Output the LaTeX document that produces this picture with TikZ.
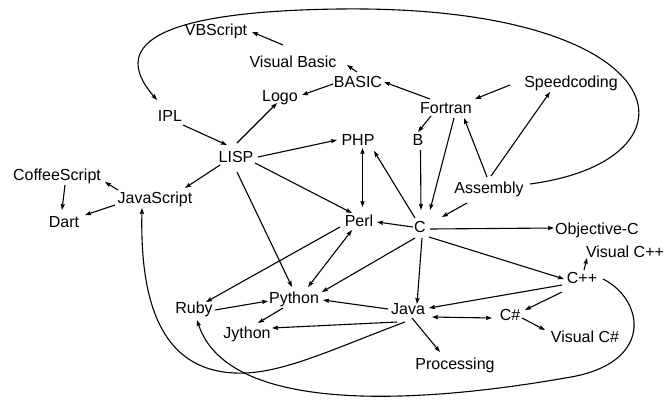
\documentclass[tikz,border=0pt]{standalone}
\usepackage{fontspec}
\setmainfont{Liberation Sans}
\usetikzlibrary{arrows.meta}
\begin{document}
\begin{tikzpicture}[x=1pt,y=-1pt,
  lang/.style={inner sep=0pt, text height=11.5pt, text depth=0pt, font=\fontsize{16}{19}\selectfont},
  arr/.style={-{Stealth[length=6pt,width=4.2pt,inset=0.8pt]}, line width=1.1pt},
  darr/.style={{Stealth[length=6pt,width=4.2pt,inset=0.8pt]}-{Stealth[length=6pt,width=4.2pt,inset=0.8pt]}, line width=1.1pt}]
\useasboundingbox[fill=white] (0,0) rectangle (664,400);
\node[lang] (VBScript) at (216,30) {VBScript};
\node[lang] (VisualBasic) at (293,62) {Visual Basic};
\node[lang] (BASIC) at (358,82) {BASIC};
\node[lang] (Logo) at (280,96) {Logo};
\node[lang] (Fortran) at (446,108) {Fortran};
\node[lang] (Speedcoding) at (571,82) {Speedcoding};
\node[lang] (IPL) at (170,116) {IPL};
\node[lang] (LISP) at (236,157) {LISP};
\node[lang] (PHP) at (358,140) {PHP};
\node[lang] (B) at (418,140) {B};
\node[lang] (Assembly) at (489,188) {Assembly};
\node[lang] (CoffeeScript) at (57,175) {CoffeeScript};
\node[lang] (JavaScript) at (155,198) {JavaScript};
\node[lang] (Dart) at (64,222) {Dart};
\node[lang] (Perl) at (359,221) {Perl};
\node[lang] (C) at (420,227) {C};
\node[lang] (ObjectiveC) at (597,229) {Objective-C};
\node[lang] (VisualCpp) at (625,252) {Visual C++};
\node[lang] (Cpp) at (582,278) {C++};
\node[lang] (Ruby) at (194,308) {Ruby};
\node[lang] (Python) at (294,298) {Python};
\node[lang] (Java) at (408,309) {Java};
\node[lang] (CSharp) at (510,315) {C\#};
\node[lang] (Jython) at (247,333) {Jython};
\node[lang] (VisualCSharp) at (585,337) {Visual C\#};
\node[lang] (Processing) at (455,364) {Processing};

\draw[arr] ([shift={(-10,-17)}]VisualBasic.center) -- ([shift={(36,2)}]VBScript.center);
\draw[arr] ([shift={(-1,-10)}]BASIC.center) -- ([shift={(54,3)}]VisualBasic.center);
\draw[arr] ([shift={(-25,2)}]BASIC.center) -- ([shift={(22,-1)}]Logo.center);
\draw[arr] ([shift={(-16,-9)}]Fortran.center) -- ([shift={(26,0)}]BASIC.center);
\draw[arr] ([shift={(-61,3)}]Speedcoding.center) -- ([shift={(29,-9)}]Fortran.center);
\draw[arr] ([shift={(-15,8)}]Fortran.center) -- ([shift={(0,-8)}]B.center);
\draw[arr] ([shift={(8,10)}]Fortran.center) -- ([shift={(10,-17)}]C.center);
\draw[arr] ([shift={(2.5,10)}]B.center) -- ([shift={(1,-17)}]C.center);
\draw[arr] ([shift={(-2,-11)}]Assembly.center) -- ([shift={(18,10)}]Fortran.center);
\draw[arr] ([shift={(2,-12)}]Assembly.center) -- ([shift={(-21,10)}]Speedcoding.center);
\draw[arr] ([shift={(-22,15)}]Assembly.center) -- ([shift={(22,-10)}]C.center);
\draw[arr] ([shift={(41,-4)}]Assembly.center) .. controls (710,160) and (680,5) .. (340,9)
  .. controls (170,11) and (105,40) .. ([shift={(-13,-16)}]IPL.center);
\draw[arr] ([shift={(13,9)}]IPL.center) -- ([shift={(-9,-12)}]LISP.center);
\draw[arr] ([shift={(1,-14)}]LISP.center) -- ([shift={(-3,7)}]Logo.center);
\draw[arr] ([shift={(22,0)}]LISP.center) -- ([shift={(-21,0)}]PHP.center);
\draw[arr] ([shift={(-16,8)}]LISP.center) -- ([shift={(30,-10)}]JavaScript.center);
\draw[arr] ([shift={(19,6)}]LISP.center) -- ([shift={(-7,-8)}]Perl.center);
\draw[arr] ([shift={(1,15)}]LISP.center) -- ([shift={(-2,-11)}]Python.center);
\draw[darr] ([shift={(4.5,8)}]PHP.center) -- ([shift={(3.5,-14)}]Perl.center);
\draw[arr] ([shift={(-5,-9)}]C.center) -- ([shift={(16,11)}]PHP.center);
\draw[arr] ([shift={(-7,0)}]C.center) -- ([shift={(18,1)}]Perl.center);
\draw[arr] ([shift={(10,2)}]C.center) -- ([shift={(-43,-1)}]ObjectiveC.center);
\draw[arr] ([shift={(9,10)}]C.center) -- ([shift={(-18,1)}]Cpp.center);
\draw[arr] ([shift={(2,11)}]C.center) -- ([shift={(9,-5)}]Java.center);
\draw[arr] ([shift={(-5,11)}]C.center) -- ([shift={(28,-6)}]Python.center);
\draw[arr] ([shift={(-19,6)}]Perl.center) -- ([shift={(12,-6)}]Ruby.center);
\draw[darr] ([shift={(-7,9)}]Perl.center) -- ([shift={(14,-11)}]Python.center);
\draw[arr] ([shift={(21,2)}]Ruby.center) -- ([shift={(-26,3)}]Python.center);
\draw[arr] ([shift={(-11,10)}]Python.center) -- ([shift={(11,-10)}]Jython.center);
\draw[arr] ([shift={(-20,0)}]Java.center) -- ([shift={(29,2)}]Python.center);
\draw[arr] ([shift={(-11,13)}]Java.center) -- ([shift={(25,-5)}]Jython.center);
\draw[arr] ([shift={(-20,7)}]Cpp.center) -- ([shift={(21,-1)}]Java.center);
\draw[darr] ([shift={(24,8)}]Java.center) -- ([shift={(-18,3)}]CSharp.center);
\draw[arr] ([shift={(-20,14)}]Cpp.center) -- ([shift={(15,-5)}]CSharp.center);
\draw[arr] ([shift={(12,3)}]CSharp.center) -- ([shift={(-40,-7)}]VisualCSharp.center);
\draw[arr] ([shift={(2,-8)}]Cpp.center) -- ([shift={(-38,6)}]VisualCpp.center);
\draw[arr] ([shift={(4,9)}]Java.center) -- ([shift={(-15,-12)}]Processing.center);
\draw[arr] ([shift={(-3,13)}]Java.center) .. controls (330,350) and (280,375) .. (235,373)
  .. controls (160,370) and (140,300) .. ([shift={(-13,10)}]JavaScript.center);
\draw[arr] ([shift={(21,1)}]Cpp.center) .. controls (645,300) and (655,365) .. (565,378)
  .. controls (440,400) and (230,420) .. ([shift={(3,12)}]Ruby.center);
\draw[arr] ([shift={(8,10)}]CoffeeScript.center) -- ([shift={(-2,-12)}]Dart.center);
\draw[arr] ([shift={(-40,7)}]JavaScript.center) -- ([shift={(21,-7)}]Dart.center);
\draw[arr] ([shift={(-37,-8)}]JavaScript.center) -- ([shift={(48,7)}]CoffeeScript.center);
\end{tikzpicture}
\end{document}
